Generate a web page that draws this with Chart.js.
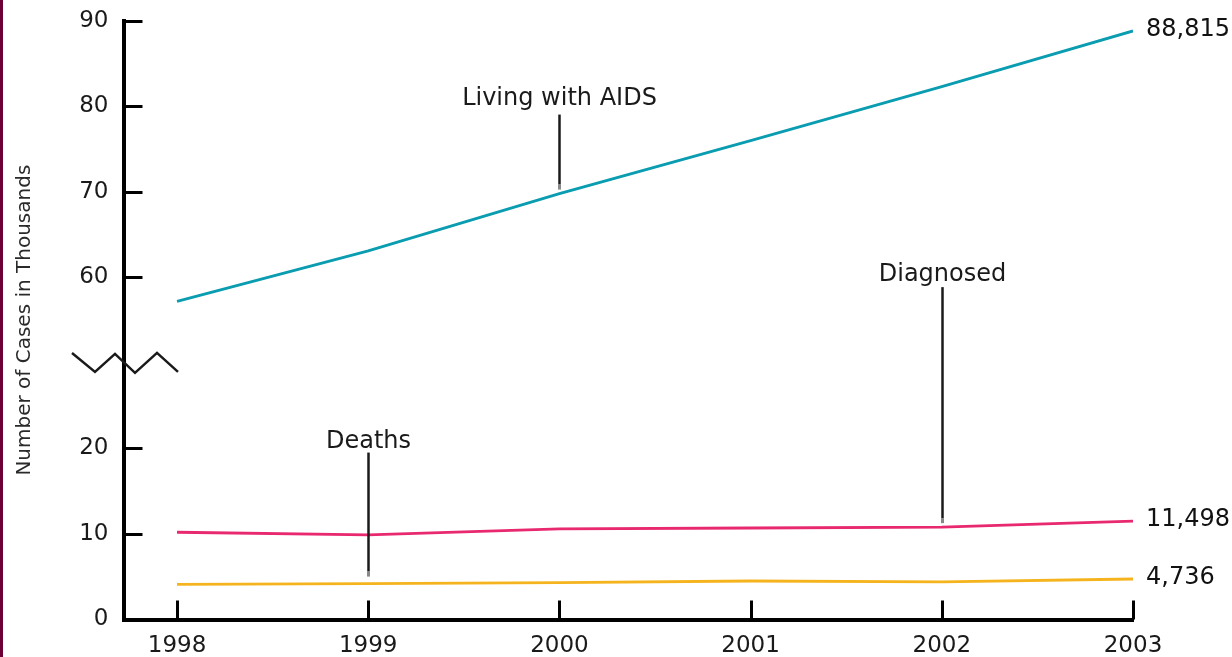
<!DOCTYPE html>
<html>
<head>
<meta charset="utf-8">
<title>AIDS cases 1998–2003</title>
<script src="https://cdn.jsdelivr.net/npm/chart.js@4.4.1/dist/chart.umd.min.js"></script>
<style>
  html, body { margin: 0; padding: 0; background: #ffffff; }
  #wrap { position: relative; width: 1232px; height: 657px; overflow: hidden; }
  #edge { position: absolute; left: 0; top: 0; width: 3px; height: 657px; background: #6b0034; }
  canvas { display: block; }
</style>
</head>
<body>
<div id="wrap">
  <canvas id="chart" width="1232" height="657"></canvas>
  <div id="edge"></div>
</div>
<script>
// ---- data (thousands of cases) ----
const years = [1998, 1999, 2000, 2001, 2002, 2003];
const livingWithAids = [57.2, 63.1, 69.8, 76.0, 82.3, 88.815];
const diagnosed = [10.2, 9.9, 10.6, 10.7, 10.8, 11.498];
const deaths = [4.1, 4.2, 4.3, 4.5, 4.4, 4.736];
const yTickLabels = [0, 10, 20, 60, 70, 80, 90];
const seriesNames = ['Living with AIDS', 'Diagnosed', 'Deaths'];
const endLabels = ['88,815', '11,498', '4,736'];
const yTitle = 'Number of Cases in Thousands';

// ---- broken value axis: the span 20..60 is squeezed into two ordinary steps ----
const BREAK_LOW = 20, BREAK_HIGH = 60, STEP = 10;
const SQUEEZE = (BREAK_HIGH - BREAK_LOW) - 2 * STEP;
const toAxis = v => (v > BREAK_LOW ? v - SQUEEZE : v);
const fromAxis = a => (a > BREAK_LOW ? a + SQUEEZE : a);
const BREAK_MARK = BREAK_LOW + STEP;

const series = [livingWithAids, diagnosed, deaths];
const colors = ['#0a9cb0', '#e8286f', '#f5b41e'];

// callouts: label + pointer dropping onto a series at a given year
const callouts = [
  { series: 0, year: 2000, text: seriesNames[0], gap: 4, length: 75, labelGap: 10 },
  { series: 1, year: 2002, text: seriesNames[1], gap: 4, length: 236, labelGap: 6 },
  { series: 2, year: 1999, text: seriesNames[2], gap: 7, length: 124, labelGap: 5 }
];

const FONT = "'DejaVu Sans', sans-serif";
Chart.defaults.font.family = FONT;
Chart.defaults.color = '#1a1a1a';

const decorations = {
  id: 'decorations',
  afterDatasetsDraw(chart) {
    const ctx = chart.ctx;
    const xS = chart.scales.x, yS = chart.scales.y, area = chart.chartArea;
    ctx.save();
    ctx.lineCap = 'butt';

    // inward tick marks
    ctx.strokeStyle = '#000';
    ctx.lineWidth = 3;
    yS.ticks.forEach(t => {
      if (t.value === 0) return;
      const py = Math.round(yS.getPixelForValue(t.value)) + 0.5;
      ctx.beginPath();
      ctx.moveTo(area.left, py);
      ctx.lineTo(area.left + 19, py);
      ctx.stroke();
    });
    xS.ticks.forEach(t => {
      const px = Math.round(xS.getPixelForValue(t.value)) + 0.5;
      ctx.beginPath();
      ctx.moveTo(px, area.bottom);
      ctx.lineTo(px, area.bottom - 19);
      ctx.stroke();
    });

    // zig-zag marking the axis break
    const zy = yS.getPixelForValue(BREAK_MARK);
    const zig = [[-51.5, -10], [-28.5, 9], [-8.5, -9], [11.5, 10], [33.5, -10], [54.5, 9]];
    ctx.strokeStyle = '#1a1a1a';
    ctx.lineWidth = 2.5;
    ctx.lineJoin = 'miter';
    ctx.beginPath();
    zig.forEach(([dx, dy], i) => {
      const px = area.left + dx, py = zy + dy;
      if (i === 0) ctx.moveTo(px, py); else ctx.lineTo(px, py);
    });
    ctx.stroke();

    // callouts
    ctx.font = '24px ' + FONT;
    ctx.textAlign = 'center';
    ctx.textBaseline = 'alphabetic';
    callouts.forEach(c => {
      const idx = years.indexOf(c.year);
      const px = Math.round(xS.getPixelForValue(c.year)) + 0.5;
      const tip = yS.getPixelForValue(toAxis(series[c.series][idx])) - c.gap;
      const top = tip - c.length;
      ctx.strokeStyle = '#1a1a1a';
      ctx.lineWidth = 2.5;
      ctx.beginPath();
      ctx.moveTo(px, top);
      ctx.lineTo(px, tip - 5);
      ctx.stroke();
      ctx.strokeStyle = '#888';
      ctx.lineWidth = 3;
      ctx.beginPath();
      ctx.moveTo(px, tip - 5);
      ctx.lineTo(px, tip);
      ctx.stroke();
      ctx.fillStyle = '#1a1a1a';
      ctx.fillText(c.text, px, top - c.labelGap);
    });

    // values at the line ends
    ctx.textAlign = 'left';
    ctx.textBaseline = 'middle';
    ctx.fillStyle = '#111';
    const lastX = xS.getPixelForValue(years[years.length - 1]) + 13;
    series.forEach((vals, i) => {
      const py = yS.getPixelForValue(toAxis(vals[vals.length - 1]));
      ctx.fillText(endLabels[i], lastX, py - 1);
    });
    ctx.restore();
  }
};

new Chart(document.getElementById('chart'), {
  type: 'line',
  data: {
    datasets: series.map((vals, i) => ({
      label: seriesNames[i],
      data: years.map((yr, j) => ({ x: yr, y: toAxis(vals[j]) })),
      borderColor: colors[i],
      backgroundColor: colors[i],
      borderWidth: 2.8,
      pointRadius: 0,
      tension: 0,
      fill: false
    }))
  },
  options: {
    responsive: false,
    animation: false,
    devicePixelRatio: 1,
    layout: { padding: { top: 14, right: 99, left: 0, bottom: 0 } },
    plugins: { legend: { display: false }, tooltip: { enabled: false } },
    scales: {
      x: {
        type: 'linear',
        min: 1997.72,
        max: 2003,
        grid: { display: false },
        border: { display: true, color: '#000', width: 4 },
        afterBuildTicks: s => { s.ticks = years.map(v => ({ value: v })); },
        afterFit: s => { s.height = 37.5; },
        ticks: {
          autoSkip: false,
          maxRotation: 0,
          padding: 5,
          color: '#1a1a1a',
          font: { size: 23 },
          callback: v => String(v)
        }
      },
      y: {
        type: 'linear',
        min: 0,
        max: toAxis(90),
        grid: { display: false },
        border: { display: true, color: '#000', width: 4 },
        afterBuildTicks: s => { s.ticks = yTickLabels.map(v => ({ value: toAxis(v) })); },
        afterFit: s => { s.width = 123.5; },
        ticks: {
          padding: 7,
          color: '#1a1a1a',
          font: { size: 23 },
          callback: v => String(fromAxis(v))
        },
        title: {
          display: true,
          text: yTitle,
          color: '#2a2a2a',
          font: { size: 20 },
          padding: { top: 13, bottom: 0 }
        }
      }
    }
  },
  plugins: [decorations]
});
</script>
</body>
</html>
